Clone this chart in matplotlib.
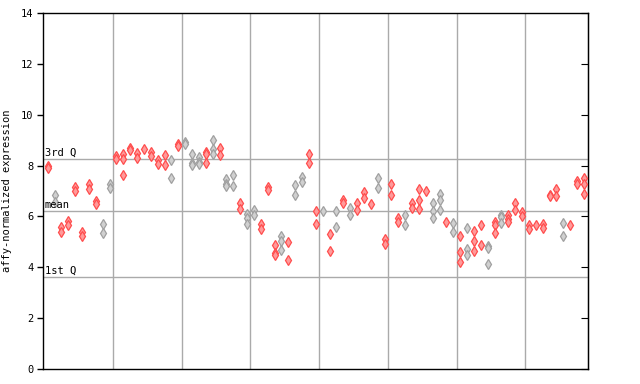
import matplotlib
matplotlib.use("Agg")
import matplotlib.pyplot as plt

# column index -> replicate values
values = [
    [8.0, 7.9], [6.83, 6.56], [5.57, 5.39], [5.81, 5.68], [7.15, 6.99],
    [5.39, 5.22], [7.26, 7.06], [6.6, 6.48], [5.71, 5.35], [7.28, 7.1],
    [8.37, 8.24], [8.44, 8.27, 7.61], [8.7, 8.61], [8.48, 8.31], [8.64],
    [8.54, 8.37], [8.2, 8.07], [8.41, 8.04], [8.2, 7.52], [8.83, 8.77],
    [8.94, 8.86], [8.44, 8.11, 8.04], [8.35, 8.15, 8.07], [8.54, 8.47, 8.11], [8.99, 8.64, 8.47],
    [8.68, 8.4], [7.48, 7.28, 7.19], [7.61, 7.19], [6.51, 6.31], [6.11, 5.93, 5.71],
    [6.27, 6.07], [5.71, 5.51], [7.16, 7.02], [4.89, 4.56, 4.5], [5.22, 5.05, 4.69],
    [4.98, 4.3], [7.22, 6.86], [7.56, 7.35], [8.47, 8.11], [6.2, 5.71],
    [6.2], [5.31, 4.66], [6.23, 5.59], [6.66, 6.53], [6.34, 6.07],
    [6.53, 6.24], [6.95, 6.73], [6.49], [7.52, 7.12], [5.11, 4.93],
    [7.26, 6.86], [5.94, 5.77], [6.07, 5.68], [6.51, 6.34], [7.08, 6.64, 6.3],
    [6.99], [6.53, 6.2, 5.94], [6.9, 6.64, 6.24], [5.77], [5.74, 5.39],
    [5.22, 4.6, 4.21], [5.55, 4.72, 4.5], [5.44, 5.05, 4.65], [5.65, 4.89], [4.85, 4.76, 4.13],
    [5.78, 5.68, 5.35], [6.07, 5.98, 5.74], [6.07, 5.88, 5.78], [6.53, 6.27], [6.16, 6.0],
    [5.65, 5.51], [5.65], [5.71, 5.55], [6.86, 6.8], [7.06, 6.8],
    [5.74, 5.22], [5.68], [7.39, 7.26], [7.52, 7.29, 6.89],
]
# 1 = red, 0 = gray
colour_flags = [
    1, 0, 1, 1, 1, 1, 1, 1, 0, 0,
    1, 1, 1, 1, 1, 1, 1, 1, 0, 1,
    0, 0, 0, 1, 0, 1, 0, 0, 1, 0,
    0, 1, 1, 1, 0, 1, 0, 0, 1, 1,
    0, 1, 0, 1, 0, 1, 1, 1, 0, 1,
    1, 1, 0, 1, 1, 1, 0, 0, 1, 0,
    1, 0, 1, 1, 0, 1, 0, 1, 1, 1,
    1, 1, 1, 1, 1, 0, 1, 1, 1,
]
q3 = 8.24
mean_v = 6.2
q1 = 3.62
yticks = [0, 2, 4, 6, 8, 10, 12, 14]
group_bounds = [9.5, 19.5, 29.5, 39.5, 49.5, 59.5, 69.5]

fig = plt.figure(figsize=(6.4, 3.84), dpi=100)
ax = fig.add_axes([43/640, 15/384, 545/640, 356/384])
mono = "DejaVu Sans Mono"

for b in group_bounds:
    ax.axvline(b, color="#aaaaaa", lw=1, zorder=1)
for v in (q3, mean_v, q1):
    ax.axhline(v, color="#aaaaaa", lw=1, zorder=1)

for i, vals in enumerate(values):
    red = colour_flags[i] == 1
    ec = "#ff4d4d" if red else "#a0a0a0"
    fc = "#ff9a9a" if red else "#d0d0d0"
    ax.plot([i] * len(vals), vals, linestyle="none", marker="d", markersize=5,
            markeredgecolor=ec, markerfacecolor=fc, markeredgewidth=0.9, zorder=3)

ax.set_xlim(-0.68, 78.6)
ax.set_ylim(0, 14)
ax.set_xticks([])
ax.set_yticks(yticks)
ax.set_yticklabels([str(t) for t in yticks], family=mono, fontsize=7.5)
ax.tick_params(axis="y", direction="out", length=4, width=1, pad=3)
for s in ax.spines.values():
    s.set_color("black")
    s.set_linewidth(1)

ax2 = ax.secondary_yaxis("right")
ax2.set_yticks(yticks)
ax2.set_yticklabels([])
ax2.tick_params(direction="in", length=5)

ax.set_ylabel("affy-normalized expression", family=mono, fontsize=7.5, labelpad=6)

for v, lab in ((q3, "3rd Q"), (mean_v, "mean"), (q1, "1st Q")):
    ax.text(0.003, v + 0.05, lab, transform=ax.get_yaxis_transform(), family=mono,
            fontsize=7.5, va="bottom", ha="left", zorder=4)

fig.savefig("out.png", dpi=100)
